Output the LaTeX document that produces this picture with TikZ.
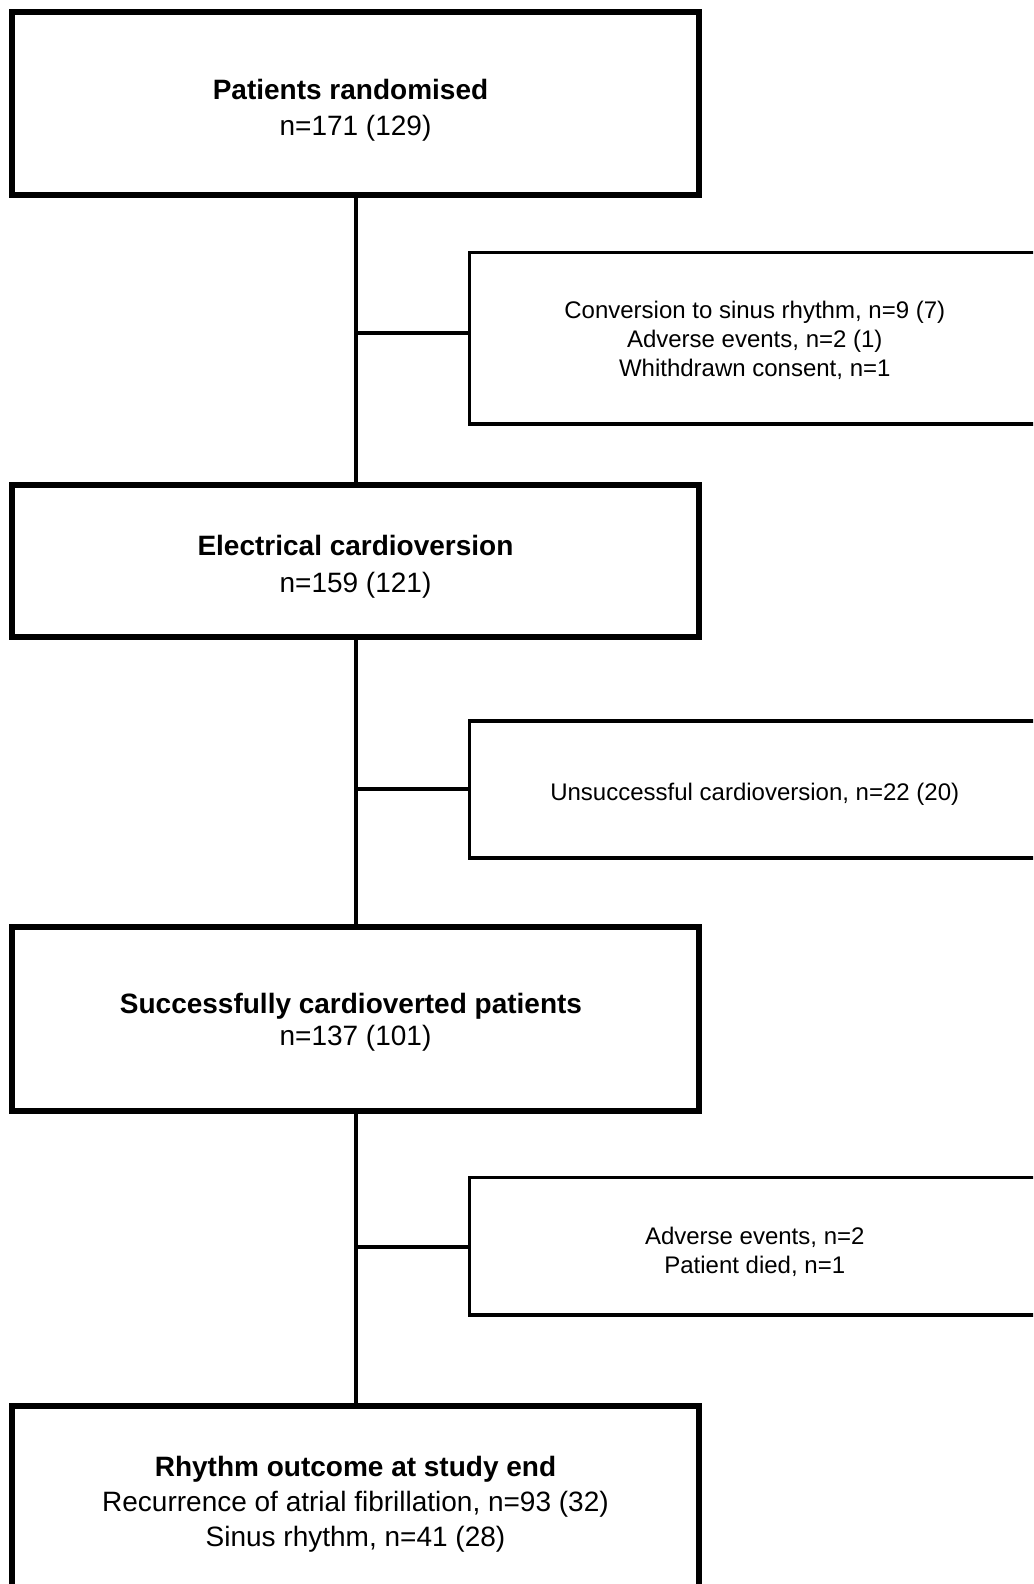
\documentclass[tikz,border=0pt]{standalone}
\usepackage{fontspec}
\setmainfont{Liberation Sans}
\begin{document}
\begin{tikzpicture}[x=1pt,y=-1pt,
  mainbox/.style={draw=black,line width=6pt,fill=white,inner sep=0pt,minimum width=687pt},
  sidebox/.style={draw=black,line width=3.5pt,fill=white,inner sep=0pt,minimum width=570.5pt},
  maintext/.style={inner sep=0pt,align=center},
  sidetext/.style={inner sep=0pt,align=center,font=\fontsize{24}{29.3}\selectfont},
  link/.style={line width=4pt,black}]
\useasboundingbox (0,0) rectangle (1033,1584);
\clip (0,0) rectangle (1033,1584);
% main boxes
\node[mainbox,minimum height=183pt] (b1) at (355.5,103.5) {};
\node[mainbox,minimum height=152pt] (b2) at (355.5,561) {};
\node[mainbox,minimum height=184pt] (b3) at (355.5,1019) {};
\node[mainbox,minimum height=194pt] (b4) at (355.5,1502.6) {};
\node[maintext,font=\fontsize{28}{36.4}\selectfont] (t1) at (355.5,110.5)
  {\textbf{Patients randomised}\rule{10pt}{0pt}\\n=171 (129)};
\node[maintext,font=\fontsize{28}{37.4}\selectfont] (t2) at (355.5,566.5)
  {\textbf{Electrical cardioversion}\\n=159 (121)};
\node[maintext,font=\fontsize{28}{32.3}\selectfont] (t3) at (355.5,1022)
  {\textbf{Successfully cardioverted patients}\rule{9pt}{0pt}\\n=137 (101)};
\node[maintext,font=\fontsize{28}{35}\selectfont] (t4) at (355.5,1504)
  {\textbf{Rhythm outcome at study end}\\Recurrence of atrial fibrillation, n=93 (32)\\Sinus rhythm, n=41 (28)};
% side boxes
\node[sidebox,minimum height=171.5pt] (s1) at (754.75,338.25) {};
\node[sidebox,minimum height=137pt] (s2) at (754.75,789.5) {};
\node[sidebox,minimum height=137.5pt] (s3) at (754.75,1246.25) {};
\node[sidetext] (u1) at (754.75,340.25)
  {Conversion to sinus rhythm, n=9 (7)\\Adverse events, n=2 (1)\\Whithdrawn consent, n=1};
\node[sidetext] (u2) at (754.75,794.5)
  {Unsuccessful cardioversion, n=22 (20)};
\node[sidetext] (u3) at (754.75,1251.75)
  {Adverse events, n=2\\Patient died, n=1};
% junctions
\coordinate (j1) at (355.5,332.5);
\coordinate (j2) at (355.5,789);
\coordinate (j3) at (355.5,1247);
% connectors
\draw[link] (b1.south) -- (b2.north);
\draw[link] (b2.south) -- (b3.north);
\draw[link] (b3.south) -- (b4.north);
\draw[link] (j1) -- (j1 -| s1.west);
\draw[link] (j2) -- (j2 -| s2.west);
\draw[link] (j3) -- (j3 -| s3.west);
\end{tikzpicture}
\end{document}
